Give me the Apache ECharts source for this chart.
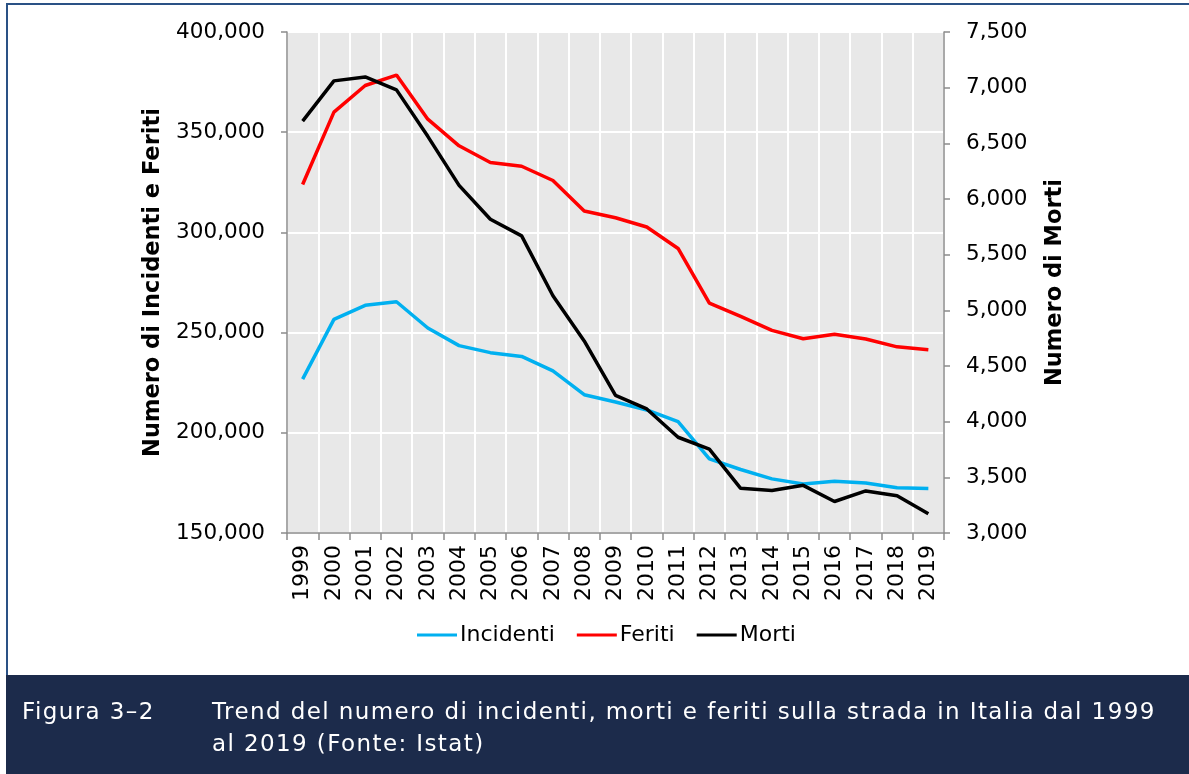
<!DOCTYPE html>
<html><head><meta charset="utf-8">
<script src="https://cdn.jsdelivr.net/npm/echarts@6/dist/echarts.min.js"></script>
<style>
html,body{margin:0;padding:0;background:#fff;}
#wrap{position:relative;width:1189px;height:774px;}
#c{width:1189px;height:774px;}
.cap{position:absolute;color:#fff;font-family:"DejaVu Sans";font-size:23px;line-height:32px;letter-spacing:1.4px;white-space:nowrap;}
</style>
</head><body><div id="wrap"><div id="c"></div>
<div class="cap" id="capLabel" style="left:22px;top:695px;"></div>
<div class="cap" id="capText" style="left:212px;top:695px;"></div>
</div>
<script>
const years = ['1999','2000','2001','2002','2003','2004','2005','2006','2007','2008','2009','2010','2011','2012','2013','2014','2015','2016','2017','2018','2019'];
const incidenti = [226800,256600,263600,265400,252300,243500,240000,238100,230900,219000,215400,211400,205600,187000,181700,177000,174500,175800,174900,172600,172200];
const feriti = [323900,360000,373300,378500,356500,343200,334900,333000,325900,310700,307300,302700,292000,264700,258100,251100,246900,249200,246800,242900,241400];
const morti = [6700,7061,7096,6980,6563,6122,5818,5669,5131,4725,4237,4114,3860,3753,3401,3381,3428,3283,3378,3334,3173];
const leftTicks = {min:150000, max:400000, interval:50000};
const rightTicks = {min:3000, max:7500, interval:500};
const captionLabel = 'Figura 3\u20132';
const captionLines = ['Trend del numero di incidenti, morti e feriti sulla strada in Italia dal 1999','al 2019 (Fonte: Istat)'];

document.getElementById('capLabel').textContent = captionLabel;
const capText = document.getElementById('capText');
captionLines.forEach((t,i)=>{ if(i) capText.appendChild(document.createElement('br')); capText.appendChild(document.createTextNode(t)); });

const chart = echarts.init(document.getElementById('c'), null, {renderer:'canvas'});
const FONT = 'DejaVu Sans';
const fmt = v => v.toLocaleString('en-US');
const axisGray = '#8c8c8c';
chart.setOption({
  animation:false,
  backgroundColor:'#ffffff',
  textStyle:{fontFamily:FONT},
  grid:{left:287, right:245, top:32, bottom:241, show:true, backgroundColor:'#e8e8e8', borderWidth:0},
  legend:{
    bottom:123, left:412,
    itemWidth:40, itemHeight:3, itemGap:22,
    icon:'rect',
    textStyle:{fontFamily:FONT, fontSize:22, color:'#000', padding:[0,0,0,-2]},
    data:['Incidenti','Feriti','Morti']
  },
  xAxis:{
    type:'category', data:years, boundaryGap:true,
    axisLine:{lineStyle:{color:axisGray, width:1.5}},
    axisTick:{show:true, length:7, lineStyle:{color:axisGray, width:1.5}},
    axisLabel:{rotate:90, fontFamily:FONT, fontSize:22, color:'#000', margin:12},
    splitLine:{show:true, lineStyle:{color:'#ffffff', width:2}}
  },
  yAxis:[
    {type:'value', min:leftTicks.min, max:leftTicks.max, interval:leftTicks.interval, position:'left',
     name:'Numero di Incidenti e Feriti', nameLocation:'middle', nameRotate:90, nameGap:122,
     nameTextStyle:{fontFamily:FONT, fontWeight:'bold', fontSize:22.5, color:'#000'},
     axisLine:{show:true, lineStyle:{color:axisGray, width:1.5}},
     axisTick:{show:true, length:6, lineStyle:{color:axisGray, width:1.5}},
     axisLabel:{fontFamily:FONT, fontSize:21.5, color:'#000', margin:22, formatter:fmt},
     splitLine:{show:true, lineStyle:{color:'#ffffff', width:2}}},
    {type:'value', min:rightTicks.min, max:rightTicks.max, interval:rightTicks.interval, position:'right',
     name:'Numero di Morti', nameLocation:'middle', nameRotate:90, nameGap:100,
     nameTextStyle:{fontFamily:FONT, fontWeight:'bold', fontSize:22.5, color:'#000'},
     axisLine:{show:true, lineStyle:{color:axisGray, width:1.5}},
     axisTick:{show:true, length:6, lineStyle:{color:axisGray, width:1.5}},
     axisLabel:{fontFamily:FONT, fontSize:21.5, color:'#000', margin:22, formatter:fmt},
     splitLine:{show:false}}
  ],
  series:[
    {name:'Incidenti', type:'line', data:incidenti, yAxisIndex:0, symbol:'none', color:'#00b0f0', lineStyle:{width:3.5, color:'#00b0f0'}},
    {name:'Feriti', type:'line', data:feriti, yAxisIndex:0, symbol:'none', color:'#ff0000', lineStyle:{width:3.5, color:'#ff0000'}},
    {name:'Morti', type:'line', data:morti, yAxisIndex:1, symbol:'none', color:'#000000', lineStyle:{width:3.5, color:'#000000'}}
  ],
  graphic:[
    {type:'rect', shape:{x:7, y:4, width:1200, height:672}, style:{fill:'none', stroke:'#2a5185', lineWidth:2}, silent:true, z:-1},
    {type:'rect', shape:{x:6, y:675, width:1190, height:100}, style:{fill:'#1c2b4b'}, silent:true}
  ]
});
</script></body></html>
